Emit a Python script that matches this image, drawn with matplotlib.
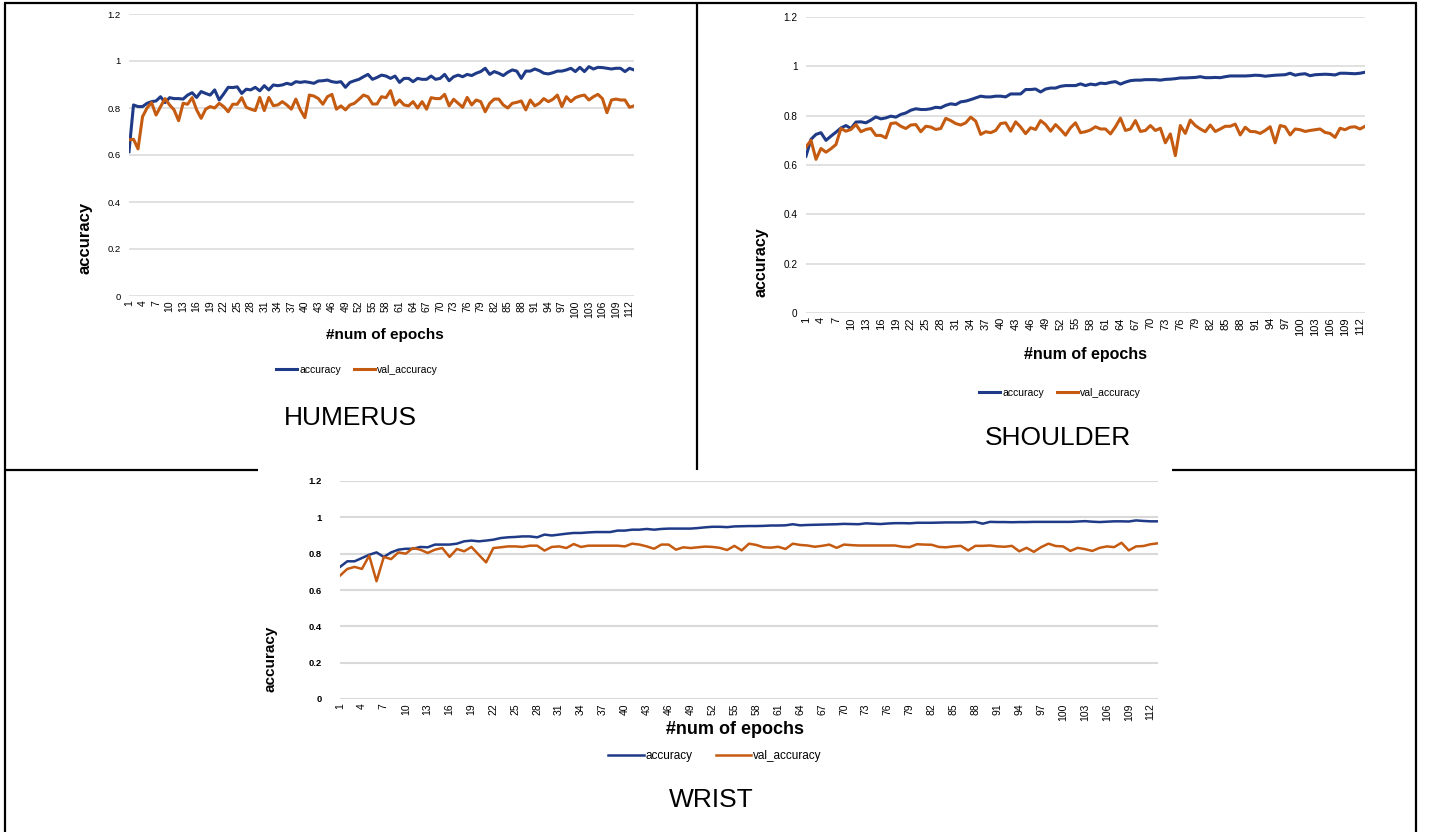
import matplotlib.pyplot as plt

plt.rcParams['font.family'] = ['Liberation Sans', 'DejaVu Sans']

# epochs and tick labels (Excel shows every 3rd category)
epochs = list(range(1, 114))
tick_epochs = list(range(1, 113, 3))
y_ticks = [0, 0.2, 0.4, 0.6, 0.8, 1.0, 1.2]
y_tick_labels = ['0', '0.2', '0.4', '0.6', '0.8', '1', '1.2']
series_names = ['accuracy', 'val_accuracy']
panel_titles = ['HUMERUS', 'SHOULDER', 'WRIST']

humerus_acc = [
    0.614, 0.813, 0.806, 0.806, 0.820, 0.827, 0.830, 0.848, 0.823, 0.844,
    0.840, 0.840, 0.838, 0.855, 0.865, 0.845, 0.870, 0.862, 0.855, 0.877,
    0.834, 0.860, 0.888, 0.887, 0.890, 0.862, 0.880, 0.877, 0.888, 0.873,
    0.895, 0.877, 0.898, 0.895, 0.898, 0.905, 0.900, 0.912, 0.909, 0.912,
    0.909, 0.905, 0.915, 0.916, 0.919, 0.912, 0.909, 0.912, 0.888, 0.909,
    0.916, 0.922, 0.933, 0.943, 0.922, 0.930, 0.940, 0.936, 0.926, 0.936,
    0.909, 0.926, 0.926, 0.912, 0.926, 0.922, 0.922, 0.936, 0.922, 0.926,
    0.943, 0.916, 0.933, 0.940, 0.933, 0.943, 0.938, 0.948, 0.955, 0.969,
    0.943, 0.955, 0.948, 0.938, 0.952, 0.962, 0.957, 0.926, 0.957, 0.957,
    0.966, 0.959, 0.948, 0.945, 0.950, 0.957, 0.957, 0.962, 0.969, 0.955,
    0.973, 0.955, 0.976, 0.966, 0.973, 0.972, 0.969, 0.966, 0.969, 0.969,
    0.955, 0.969, 0.962]
humerus_val = [
    0.664, 0.667, 0.626, 0.763, 0.800, 0.823, 0.770, 0.806, 0.840, 0.813,
    0.792, 0.746, 0.820, 0.816, 0.844, 0.792, 0.756, 0.795, 0.806, 0.800,
    0.820, 0.806, 0.784, 0.816, 0.816, 0.844, 0.803, 0.795, 0.789, 0.845,
    0.789, 0.845, 0.810, 0.813, 0.827, 0.813, 0.795, 0.838, 0.792, 0.759,
    0.855, 0.851, 0.840, 0.816, 0.848, 0.858, 0.795, 0.809, 0.792, 0.813,
    0.820, 0.837, 0.855, 0.848, 0.817, 0.817, 0.848, 0.844, 0.874, 0.813,
    0.834, 0.813, 0.809, 0.827, 0.800, 0.827, 0.795, 0.844, 0.840, 0.840,
    0.858, 0.809, 0.837, 0.820, 0.803, 0.845, 0.813, 0.834, 0.827, 0.784,
    0.820, 0.838, 0.838, 0.813, 0.800, 0.820, 0.824, 0.830, 0.792, 0.834,
    0.809, 0.820, 0.840, 0.827, 0.837, 0.855, 0.806, 0.848, 0.827, 0.844,
    0.851, 0.855, 0.834, 0.848, 0.858, 0.840, 0.780, 0.834, 0.838, 0.834,
    0.834, 0.803, 0.809]

shoulder_acc = [
    0.636, 0.704, 0.724, 0.731, 0.700, 0.717, 0.733, 0.750, 0.760, 0.748,
    0.774, 0.775, 0.771, 0.782, 0.795, 0.787, 0.791, 0.798, 0.794, 0.805,
    0.811, 0.822, 0.828, 0.825, 0.825, 0.828, 0.834, 0.832, 0.842, 0.848,
    0.845, 0.856, 0.859, 0.865, 0.872, 0.879, 0.876, 0.876, 0.879, 0.879,
    0.876, 0.888, 0.888, 0.888, 0.906, 0.906, 0.908, 0.896, 0.908, 0.912,
    0.912, 0.919, 0.922, 0.922, 0.922, 0.929, 0.922, 0.928, 0.925, 0.932,
    0.930, 0.935, 0.938, 0.928, 0.936, 0.942, 0.944, 0.944, 0.946, 0.946,
    0.946, 0.944, 0.947, 0.948, 0.950, 0.953, 0.953, 0.954, 0.955, 0.958,
    0.954, 0.954, 0.955, 0.954, 0.958, 0.961, 0.961, 0.961, 0.961, 0.962,
    0.964, 0.963, 0.960, 0.962, 0.964, 0.965, 0.966, 0.972, 0.964, 0.968,
    0.970, 0.962, 0.966, 0.967, 0.968, 0.967, 0.965, 0.972, 0.972, 0.971,
    0.970, 0.972, 0.976]
shoulder_val = [
    0.673, 0.700, 0.623, 0.667, 0.652, 0.666, 0.683, 0.748, 0.737, 0.744,
    0.764, 0.735, 0.744, 0.748, 0.720, 0.720, 0.710, 0.768, 0.771, 0.757,
    0.748, 0.762, 0.764, 0.735, 0.757, 0.754, 0.744, 0.748, 0.789, 0.780,
    0.768, 0.762, 0.771, 0.794, 0.778, 0.724, 0.735, 0.731, 0.740, 0.768,
    0.771, 0.737, 0.775, 0.754, 0.727, 0.751, 0.744, 0.780, 0.764, 0.737,
    0.764, 0.744, 0.721, 0.751, 0.771, 0.731, 0.735, 0.742, 0.755, 0.746,
    0.746, 0.726, 0.755, 0.790, 0.740, 0.746, 0.780, 0.736, 0.740, 0.760,
    0.740, 0.749, 0.690, 0.726, 0.638, 0.760, 0.728, 0.782, 0.760, 0.746,
    0.735, 0.762, 0.736, 0.746, 0.757, 0.757, 0.766, 0.722, 0.753, 0.736,
    0.735, 0.728, 0.740, 0.755, 0.690, 0.760, 0.755, 0.722, 0.746, 0.743,
    0.736, 0.740, 0.743, 0.746, 0.732, 0.728, 0.712, 0.749, 0.743, 0.753,
    0.755, 0.746, 0.757]

wrist_acc = [
    0.727, 0.758, 0.758, 0.776, 0.794, 0.807, 0.782, 0.807, 0.822, 0.827,
    0.827, 0.837, 0.835, 0.850, 0.850, 0.850, 0.855, 0.868, 0.872, 0.868,
    0.872, 0.877, 0.886, 0.890, 0.892, 0.895, 0.895, 0.890, 0.905, 0.900,
    0.905, 0.910, 0.914, 0.914, 0.917, 0.919, 0.919, 0.919, 0.927, 0.927,
    0.932, 0.932, 0.936, 0.932, 0.936, 0.938, 0.938, 0.938, 0.938, 0.941,
    0.945, 0.948, 0.948, 0.946, 0.950, 0.951, 0.952, 0.952, 0.953, 0.955,
    0.955, 0.956, 0.962, 0.956, 0.958, 0.959, 0.960, 0.961, 0.962, 0.964,
    0.963, 0.962, 0.967, 0.965, 0.963, 0.966, 0.968, 0.968, 0.967, 0.970,
    0.970, 0.970, 0.971, 0.972, 0.972, 0.972, 0.973, 0.975, 0.965, 0.975,
    0.974, 0.974, 0.973, 0.974, 0.974, 0.975, 0.975, 0.975, 0.975, 0.975,
    0.975, 0.977, 0.979, 0.976, 0.974, 0.976, 0.978, 0.978, 0.977, 0.983,
    0.980, 0.978, 0.978]
wrist_val = [
    0.679, 0.716, 0.727, 0.716, 0.789, 0.648, 0.782, 0.770, 0.807, 0.800,
    0.831, 0.822, 0.804, 0.822, 0.831, 0.782, 0.826, 0.813, 0.837, 0.794,
    0.752, 0.831, 0.835, 0.840, 0.840, 0.837, 0.844, 0.844, 0.817, 0.837,
    0.840, 0.831, 0.853, 0.837, 0.844, 0.844, 0.844, 0.844, 0.844, 0.840,
    0.855, 0.850, 0.840, 0.827, 0.850, 0.850, 0.822, 0.835, 0.831, 0.835,
    0.839, 0.837, 0.832, 0.820, 0.843, 0.818, 0.855, 0.848, 0.835, 0.833,
    0.838, 0.826, 0.855, 0.848, 0.845, 0.838, 0.843, 0.850, 0.832, 0.850,
    0.847, 0.845, 0.845, 0.845, 0.845, 0.845, 0.845, 0.838, 0.836, 0.852,
    0.850, 0.849, 0.837, 0.835, 0.840, 0.843, 0.818, 0.843, 0.843, 0.845,
    0.840, 0.838, 0.843, 0.813, 0.832, 0.810, 0.836, 0.855, 0.842, 0.840,
    0.815, 0.832, 0.825, 0.815, 0.832, 0.840, 0.836, 0.860, 0.818, 0.840,
    0.842, 0.852, 0.857]

BLUE = '#1f3b87'
ORANGE = '#c55a11'
W, H = 1429, 832

fig = plt.figure(figsize=(W / 100, H / 100), dpi=100)

# table borders, drawn in pixel coordinates on a background axes
bg = fig.add_axes([0, 0, 1, 1])
bg.set_xlim(0, W)
bg.set_ylim(H, 0)
bg.axis('off')
for xs, ys in [([4, 1417], [3, 3]), ([5, 5], [3, H]), ([1416, 1416], [3, H]),
               ([697, 697], [3, 470]), ([4, 258], [470, 470]),
               ([1172, 1417], [470, 470])]:
    bg.plot(xs, ys, color='black', lw=1.6, solid_capstyle='butt')


def px_axes(left, top, right, bottom):
    return fig.add_axes([left / W, 1 - bottom / H, (right - left) / W, (bottom - top) / H])


def draw_panel(box, acc, val, lw, xsize, ysize, ypad, ybold=False, grid_lw=1.1):
    ax = px_axes(*box)
    ax.set_facecolor('none')
    ax.plot(epochs, acc, color=BLUE, lw=lw, label=series_names[0])
    ax.plot(epochs, val, color=ORANGE, lw=lw, label=series_names[1])
    ax.set_xlim(1, 113)
    ax.set_ylim(0, 1.2)
    ax.set_yticks(y_ticks)
    ax.set_yticklabels(y_tick_labels, fontsize=ysize,
                       fontweight='bold' if ybold else 'normal')
    ax.set_xticks(tick_epochs)
    ax.set_xticklabels([str(e) for e in tick_epochs], rotation=90, fontsize=xsize)
    ax.tick_params(axis='y', length=0, pad=ypad)
    ax.tick_params(axis='x', length=0, pad=3)
    ax.grid(axis='y', color='#d9d9d9', lw=grid_lw)
    ax.set_axisbelow(True)
    for s in ax.spines.values():
        s.set_visible(False)
    return ax


# HUMERUS
ax1 = draw_panel((129, 14, 634, 296), humerus_acc, humerus_val, 2.2, 7.5, 6.8, 6)
fig.text(385 / W, 1 - 335 / H, '#num of epochs', ha='center', va='center',
         fontsize=11, fontweight='bold')
fig.text(85 / W, 1 - 238 / H, 'accuracy', ha='center', va='center',
         rotation=90, fontsize=12, fontweight='bold')
fig.legend(handles=ax1.get_lines(), loc='center', bbox_to_anchor=(357 / W, 1 - 370 / H),
           ncol=2, frameon=False, fontsize=7.5, handlelength=2.0, handletextpad=0.25,
           columnspacing=1.2)
fig.text(350 / W, 1 - 418 / H, panel_titles[0], ha='center', va='center', fontsize=19)

# SHOULDER
ax2 = draw_panel((806, 17, 1365, 313), shoulder_acc, shoulder_val, 2.2, 8, 7.2, 6)
fig.text(1085 / W, 1 - 355 / H, '#num of epochs', ha='center', va='center',
         fontsize=11.5, fontweight='bold')
fig.text(761 / W, 1 - 262 / H, 'accuracy', ha='center', va='center',
         rotation=90, fontsize=11.5, fontweight='bold')
fig.legend(handles=ax2.get_lines(), loc='center', bbox_to_anchor=(1060 / W, 1 - 393 / H),
           ncol=2, frameon=False, fontsize=7.5, handlelength=2.0, handletextpad=0.25,
           columnspacing=1.2)
fig.text(1058 / W, 1 - 438 / H, panel_titles[1], ha='center', va='center', fontsize=19)

# WRIST
ax3 = draw_panel((340, 481, 1158, 699), wrist_acc, wrist_val, 1.8, 7.5, 6.8, 13,
                 ybold=True, grid_lw=1.5)
fig.text(735 / W, 1 - 729 / H, '#num of epochs', ha='center', va='center',
         fontsize=13, fontweight='bold')
fig.text(271 / W, 1 - 659 / H, 'accuracy', ha='center', va='center',
         rotation=90, fontsize=11, fontweight='bold')
fig.legend(handles=ax3.get_lines(), loc='center', bbox_to_anchor=(715 / W, 1 - 756 / H),
           ncol=2, frameon=False, fontsize=8.5, handlelength=3.0, handletextpad=0.15,
           columnspacing=2.0)
fig.text(711 / W, 1 - 800 / H, panel_titles[2], ha='center', va='center', fontsize=19)

plt.savefig('out.png', dpi=100)
